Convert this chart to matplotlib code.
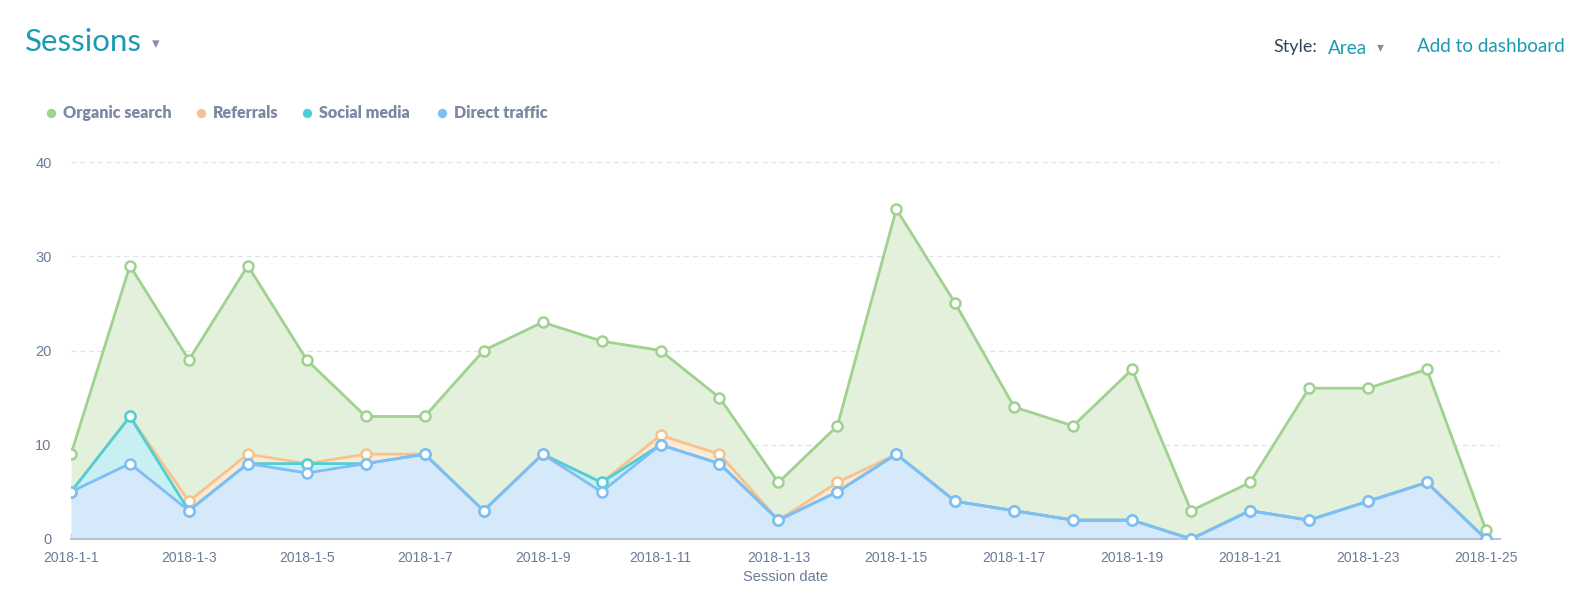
import matplotlib.pyplot as plt
import numpy as np

# daily sessions per source, 2018-1-1 .. 2018-1-25
days = [f"2018-1-{d}" for d in range(1, 26)]
direct = [5, 8, 3, 8, 7, 8, 9, 3, 9, 5, 10, 8, 2, 5, 9, 4, 3, 2, 2, 0, 3, 2, 4, 6, 0]
social = [0, 5, 0, 0, 1, 0, 0, 0, 0, 1, 0, 0, 0, 0, 0, 0, 0, 0, 0, 0, 0, 0, 0, 0, 0]
referrals = [0, 0, 1, 1, 0, 1, 0, 0, 0, 0, 1, 1, 0, 1, 0, 0, 0, 0, 0, 0, 0, 0, 0, 0, 0]
organic = [4, 16, 15, 20, 11, 4, 4, 17, 14, 15, 9, 6, 4, 6, 26, 21, 11, 10, 16, 3, 3, 14, 12, 12, 1]

names = ["Direct traffic", "Social media", "Referrals", "Organic search"]
series = [direct, social, referrals, organic]
line_colors = ["#7fbdf7", "#4ecfd6", "#f6c38d", "#9fd28f"]
fill_colors = ["#d6e9fb", "#c8f0f2", "#fcead6", "#e2f0dc"]

label_col = "#6a7b98"
teal = "#1b9bb3"
W, H = 1574, 603

plt.rcParams['font.family'] = ['Liberation Sans', 'DejaVu Sans']
fig = plt.figure(figsize=(W / 100, H / 100), dpi=100)
ax = fig.add_axes([71 / W, 1 - 539 / H, (1500 - 71) / W, (539 - 162) / H])

x = np.arange(len(days))
cum = np.cumsum(np.array(series), axis=0)
prev = np.zeros(len(days))

# fills first (bottom up), then lines with organic behind, direct on top
for i in range(4):
    ax.fill_between(x, prev, cum[i], color=fill_colors[i], lw=0, zorder=1)
    prev = cum[i]
for i in [3, 2, 1, 0]:
    ax.plot(x, cum[i], color=line_colors[i], lw=2.0, zorder=3 + (3 - i),
            marker='o', ms=7.2, mfc='white', mec=line_colors[i], mew=1.8)

ax.set_xlim(0, 24.24)
ax.set_ylim(0, 40)
ax.set_yticks([0, 10, 20, 30, 40])
ax.yaxis.grid(True, ls=(0, (4, 3)), color="#dce2ee", lw=0.9)
ax.set_axisbelow(True)
ax.set_xticks(x[::2])
ax.set_xticklabels(days[::2])
for s in ['top', 'right', 'left']:
    ax.spines[s].set_visible(False)
ax.spines['bottom'].set_color("#b8c5d8")
ax.spines['bottom'].set_linewidth(1.5)
ax.tick_params(axis='y', length=0, pad=14, labelsize=10.5, labelcolor=label_col)
ax.tick_params(axis='x', direction='in', length=4.3, width=1, color="#b8c5d8", pad=8.5,
               labelsize=10, labelcolor=label_col)
ax.set_xlabel("Session date", fontsize=10.5, color=label_col, labelpad=4)

# header
fig.text(25 / W, 1 - 51 / H, "Sessions", fontsize=22.5, color=teal, family="Lato",
         va='baseline')
fig.text(156 / W, 1 - 44 / H, "▾", fontsize=11, color="#8190a8", va='center', ha='center')
fig.text(1273 / W, 1 - 47 / H, "Style:", fontsize=13, color="#33475b", family="Lato",
         va='center')
fig.text(1328 / W, 1 - 48 / H, "Area", fontsize=13.6, color=teal, family="Lato", va='center')
fig.text(1380 / W, 1 - 47 / H, "▾", fontsize=10, color="#8190a8", va='center', ha='center')
fig.text(1417 / W, 1 - 47 / H, "Add to dashboard", fontsize=13.6, color=teal, family="Lato",
         va='center')

# legend
dot_x = [51, 201, 307, 442]
for i, (lx, nm) in enumerate(zip(dot_x, names[::-1])):
    c = line_colors[3 - i]
    ax.plot([lx / W], [1 - 113 / H], marker='o', ms=6.7, color=c, mew=0,
            transform=fig.transFigure, clip_on=False)
    fig.text((lx + 12) / W, 1 - 113 / H, nm, fontsize=11.6, color="#7b89a4",
             weight='heavy', family="Lato", va='center')

fig.savefig("out.png", dpi=100, facecolor="white")
